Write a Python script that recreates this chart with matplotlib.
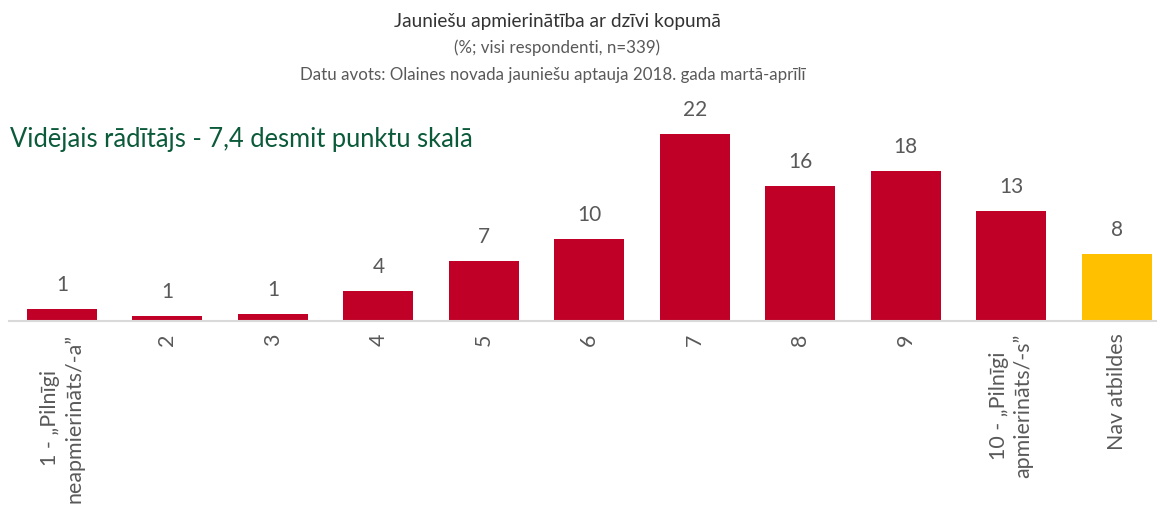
import matplotlib
matplotlib.use("Agg")
import matplotlib.pyplot as plt

categories = ["1 - \u201ePilnīgi\nneapmierināts/-a\u201d", "2", "3", "4", "5", "6", "7", "8", "9",
              "10 - \u201ePilnīgi\napmierināts/-s\u201d", "Nav atbildes"]
values = [1.47, 0.59, 0.88, 3.54, 7.08, 9.73, 22.12, 15.93, 17.70, 12.98, 7.96]
colors = ["#C00027"] * 10 + ["#FFC000"]

title = "Jauniešu apmierinātība ar dzīvi kopumā"
subtitle1 = "(%; visi respondenti, n=339)"
subtitle2 = "Datu avots: Olaines novada jauniešu aptauja 2018. gada martā-aprīlī"
note = "Vidējais rādītājs - 7,4 desmit punktu skalā"

plt.rcParams['font.family'] = ['Lato', 'DejaVu Sans']

W, H = 1157, 508
fig = plt.figure(figsize=(W / 100, H / 100), dpi=100)

# axes geometry in pixels
x0_px = 9.3
step_px = 105.45
base_px = 321
ymax = 25
px_per_unit = 8.455
left = x0_px / W
width = 11 * step_px / W
bottom = (H - base_px) / H
height = ymax * px_per_unit / H
ax = fig.add_axes([left, bottom, width, height])
ax.set_xlim(-0.5, 10.5)
ax.set_ylim(0, ymax)

x = list(range(len(values)))
bars = ax.bar(x, values, width=0.664, color=colors, zorder=2)
for xi, v in zip(x, values):
    ax.annotate(f"{v:.0f}", (xi, v), xytext=(0, 10), textcoords="offset points",
                ha="center", va="bottom", fontsize=15, color="#595959")

for s in ["top", "right", "left"]:
    ax.spines[s].set_visible(False)
ax.spines["bottom"].set_color("#D9D9D9")
ax.spines["bottom"].set_linewidth(1.5)
ax.set_yticks([])
ax.set_xticks(x)
ax.set_xticklabels(categories, rotation=90, fontsize=15.4, color="#595959",
                   ha="center", va="top", multialignment="center", linespacing=1.25)
ax.tick_params(axis="x", length=0, pad=9)

fig.text(557 / W, 1 - 22 / H, title, ha="center", va="center", fontsize=13.7, color="#333333")
fig.text(557 / W, 1 - 48 / H, subtitle1, ha="center", va="center", fontsize=12.2, color="#595959")
fig.text(553 / W, 1 - 75 / H, subtitle2, ha="center", va="center", fontsize=12.2, color="#595959")
fig.text(10 / W, 1 - 140 / H, note, ha="left", va="center", fontsize=18.4, color="#0B5A3A")

fig.savefig("out.png", dpi=100)
